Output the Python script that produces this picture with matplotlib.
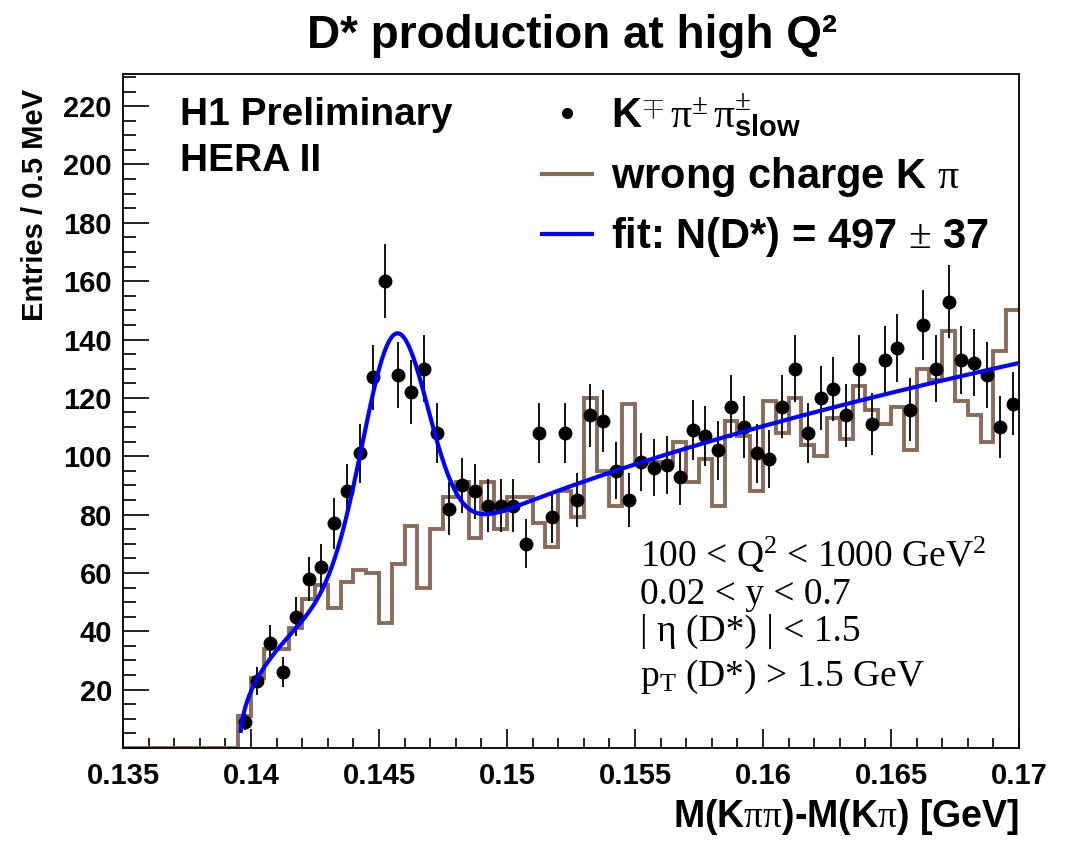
import numpy as np
import matplotlib
matplotlib.use("Agg")
import matplotlib.pyplot as plt
from matplotlib.lines import Line2D
from matplotlib.ticker import MultipleLocator, FixedLocator, FuncFormatter

plt.rcParams['mathtext.fontset'] = 'custom'
plt.rcParams['mathtext.rm'] = 'Liberation Serif'
plt.rcParams['mathtext.it'] = 'Liberation Serif:italic'
plt.rcParams['mathtext.bf'] = 'Liberation Sans:bold'
plt.rcParams['mathtext.sf'] = 'Liberation Sans'

# ---------------- data ----------------
bin_edges_range = (0.135, 0.170)
n_bins = 70
first_data_bin = 9

# right-charge data (bins 9..69), entries per 0.5 MeV
data_counts = [9, 23, 36, 26, 45, 58, 62, 77, 88, 101,
               127, 160, 128, 122, 130, 108, 82, 90, 88, 83,
               83, 83, 70, 108, 79, 108, 85, 114, 112, 95,
               85, 98, 96, 97, 93, 109, 107, 102, 117, 110,
               101, 99, 117, 130, 108, 120, 123, 114, 130, 111,
               133, 137, 116, 145, 130, 153, 133, 132, 128, 110,
               118]

# wrong-charge K pi histogram (bins 0..69)
wrong_charge = [0, 0, 0, 0, 0, 0, 0, 0, 0, 11,
                24, 34, 34, 41, 51, 56, 48, 57, 61, 60,
                43, 63, 76, 55, 75, 86, 91, 72, 91, 75,
                86, 86, 77, 69, 88, 79, 120, 95, 83, 118,
                98, 98, 98, 105, 91, 99, 83, 112, 107, 88,
                119, 108, 120, 104, 100, 113, 106, 124, 116, 111,
                117, 102, 130, 126, 143, 119, 114, 105, 136, 150]

# fit parameters
n_dstar = 497
n_dstar_err = 37
m_pi = 0.13957
fit_x_min = 0.13960
peak_mean = 0.14563
peak_sigma = 0.00127
bkg_ref_x = 0.150
bkg_ref_val = 81.5
bkg_power = 0.45

x_ticks = [0.135, 0.14, 0.145, 0.15, 0.155, 0.16, 0.165, 0.17]

# ---------------- derived ----------------
edges = np.linspace(bin_edges_range[0], bin_edges_range[1], n_bins + 1)
centers = 0.5 * (edges[:-1] + edges[1:])
bw = edges[1] - edges[0]
xd = centers[first_data_bin:first_data_bin + len(data_counts)]
yd = np.array(data_counts, dtype=float)
ed = np.sqrt(yd)

xf = np.linspace(fit_x_min, bin_edges_range[1], 800)
bkg = bkg_ref_val * ((xf - m_pi) / (bkg_ref_x - m_pi)) ** bkg_power
sig = n_dstar * bw / (np.sqrt(2 * np.pi) * peak_sigma) * np.exp(-0.5 * ((xf - peak_mean) / peak_sigma) ** 2)
yf = bkg + sig

# ---------------- figure ----------------
fig = plt.figure(figsize=(10.67, 8.41), dpi=100)
ax = fig.add_axes([123/1067, 1 - 748/841, (1019-123)/1067, (748-74)/841])

brown = '#8c6a58'
ax.stairs(wrong_charge, edges, baseline=None, color=brown, lw=2.8, zorder=2)
ax.errorbar(xd, yd, yerr=ed, fmt='o', color='black', ms=9, elinewidth=1.3,
            capsize=0, zorder=3)
ax.plot(xf, yf, color='#0000ff', lw=3.0, zorder=4)

ax.set_xlim(bin_edges_range)
ax.set_ylim(0, 231)

ax.xaxis.set_major_locator(FixedLocator(x_ticks))
ax.xaxis.set_minor_locator(MultipleLocator(0.001))
ax.yaxis.set_major_locator(MultipleLocator(20))
ax.yaxis.set_minor_locator(MultipleLocator(5))
ax.xaxis.set_major_formatter(FuncFormatter(lambda v, p: f"{v:g}"))
ax.yaxis.set_major_formatter(FuncFormatter(lambda v, p: "" if v == 0 else f"{v:g}"))

ax.tick_params(axis='both', which='both', direction='in', top=False, right=False,
               color='black', width=1.2)
ax.tick_params(axis='y', which='major', length=19, pad=8)
ax.tick_params(axis='y', which='minor', length=9.5)
ax.tick_params(axis='x', which='major', length=14, pad=10)
ax.tick_params(axis='x', which='minor', length=7)
for lab in ax.get_xticklabels() + ax.get_yticklabels():
    lab.set_fontfamily('Liberation Sans')
    lab.set_fontweight('bold')
    lab.set_fontsize(21)
for s in ax.spines.values():
    s.set_linewidth(1.3)

# titles / labels
fig.text(572/1067, 1 - 36/841, "D* production at high Q²", ha='center', va='center',
         fontsize=33, fontweight='bold', family='Liberation Sans')
ax.set_xlabel(r"M(K$\mathrm{\pi\pi}$)-M(K$\mathrm{\pi}$) [GeV]", fontsize=27,
              fontweight='bold', family='Liberation Sans', loc='right')
ax.xaxis.set_label_coords(1.0, -0.072)
ax.set_ylabel("Entries / 0.5 MeV", fontsize=21, fontweight='bold',
              family='Liberation Sans', loc='top')
ax.yaxis.set_label_coords(-0.083, 0.978)

ax.text(0.064, 0.924, "H1 Preliminary", transform=ax.transAxes, fontsize=28,
        fontweight='bold', family='Liberation Sans', va='baseline')
ax.text(0.064, 0.856, "HERA II", transform=ax.transAxes, fontsize=28,
        fontweight='bold', family='Liberation Sans', va='baseline')

# legend
handles = [Line2D([], [], marker='o', ls='none', color='black', ms=7),
           Line2D([], [], color=brown, lw=3),
           Line2D([], [], color='#0000ff', lw=3)]
labels = [r"K$^{\mp}\,\mathrm{\pi}^{\pm}\,\mathrm{\pi}^{\pm}_{\mathbf{slow}}$",
          "wrong charge K $\\mathrm{\\pi}$",
          f"fit: N(D*) = {n_dstar} $\\pm$ {n_dstar_err}"]
leg = ax.legend(handles, labels, loc='upper left', bbox_to_anchor=(0.468, 0.974),
                frameon=False, borderpad=0, borderaxespad=0, handlelength=1.2,
                handletextpad=0.45, labelspacing=0.38,
                prop={'family': 'Liberation Sans', 'weight': 'bold', 'size': 30})

# cut texts
cuts = ["100 < Q$^{2}$ < 1000 GeV$^{2}$",
        "0.02 < y < 0.7",
        "| η (D*) | < 1.5",
        "p$_{\\mathrm{T}}$ (D*) > 1.5 GeV"]
cut_y = [0.2685, 0.2135, 0.1585, 0.0920]
for t, yy in zip(cuts, cut_y):
    ax.text(0.577, yy, t, transform=ax.transAxes, fontsize=27, family='Liberation Serif',
            va='baseline')

fig.savefig("out.png", dpi=100)
